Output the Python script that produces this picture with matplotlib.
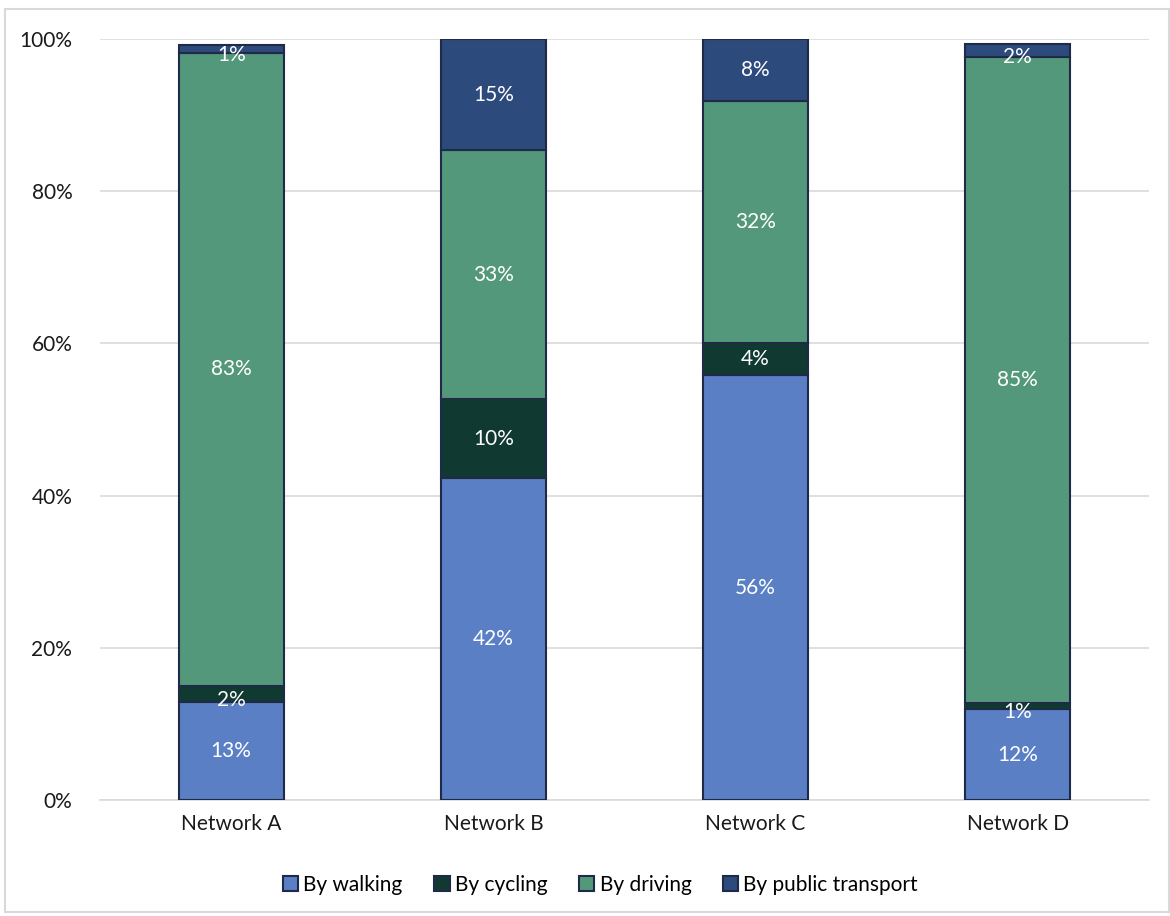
import numpy as np
import matplotlib.pyplot as plt
from matplotlib.patches import Rectangle

plt.rcParams['font.family'] = ['Lato', 'DejaVu Sans']

# andel af ture pr. transportform (%)
networks = ["Network A", "Network B", "Network C", "Network D"]
walking = [12.9, 42.3, 55.8, 11.9]
cycling = [2.1, 10.4, 4.3, 0.9]
driving = [83.2, 32.7, 31.8, 84.9]
public = [1.0, 14.6, 8.1, 1.6]

series = [("By walking", walking, "#5A7FC5"),
          ("By cycling", cycling, "#103A31"),
          ("By driving", driving, "#53987A"),
          ("By public transport", public, "#2C4A7C")]

fig = plt.figure(figsize=(11.7, 9.16), dpi=100)
ax = fig.add_axes([0.0855, 0.1266, 0.8965, 0.8308])

x = np.arange(len(networks))
bund = np.zeros(len(networks))
for navn, vals, farve in series:
    vals = np.array(vals)
    bars = ax.bar(x, vals, 0.4, bottom=bund, color=farve, edgecolor="#1E2A48",
                  linewidth=1.5, label=navn, zorder=3)
    for xi, b, v in zip(x, bund, vals):
        # smalle segmenter: teksten rykkes lidt ned som i Excel
        y = b + v / 2 - (0.8 if v < 3 else 0)
        ax.text(xi, y, "{:.0f}%".format(v), ha="center", va="center",
                color="white", fontsize=15, zorder=4)
    bund = bund + vals

ax.set_xlim(-0.5, 3.5)
ax.set_ylim(0, 100)
ax.set_yticks(range(0, 101, 20))
ax.set_yticklabels(["{}%".format(t) for t in range(0, 101, 20)])
ax.set_xticks(x)
ax.set_xticklabels(networks)
ax.tick_params(length=0, labelsize=15, colors="#1a1a1a")
ax.tick_params(axis="y", pad=20)
ax.tick_params(axis="x", pad=10)
ax.grid(axis="y", color="#D9D9D9", linewidth=1.2, zorder=0)
for s in ["top", "right", "left"]:
    ax.spines[s].set_visible(False)
ax.spines["bottom"].set_color("#D9D9D9")
ax.spines["bottom"].set_linewidth(1.2)

ax.legend(loc="center", bbox_to_anchor=(0.477, -0.111), ncol=4, frameon=False,
          fontsize=15, handlelength=0.75, handleheight=0.75, handletextpad=0.25,
          columnspacing=1.5)

# ramme om hele figuren
fig.patches.append(Rectangle((5 / 1170, 4 / 916), 1164 / 1170, 903 / 916,
                             transform=fig.transFigure, fill=False,
                             edgecolor="#D9D9D9", linewidth=1.5))

fig.savefig("out.png", dpi=100)
